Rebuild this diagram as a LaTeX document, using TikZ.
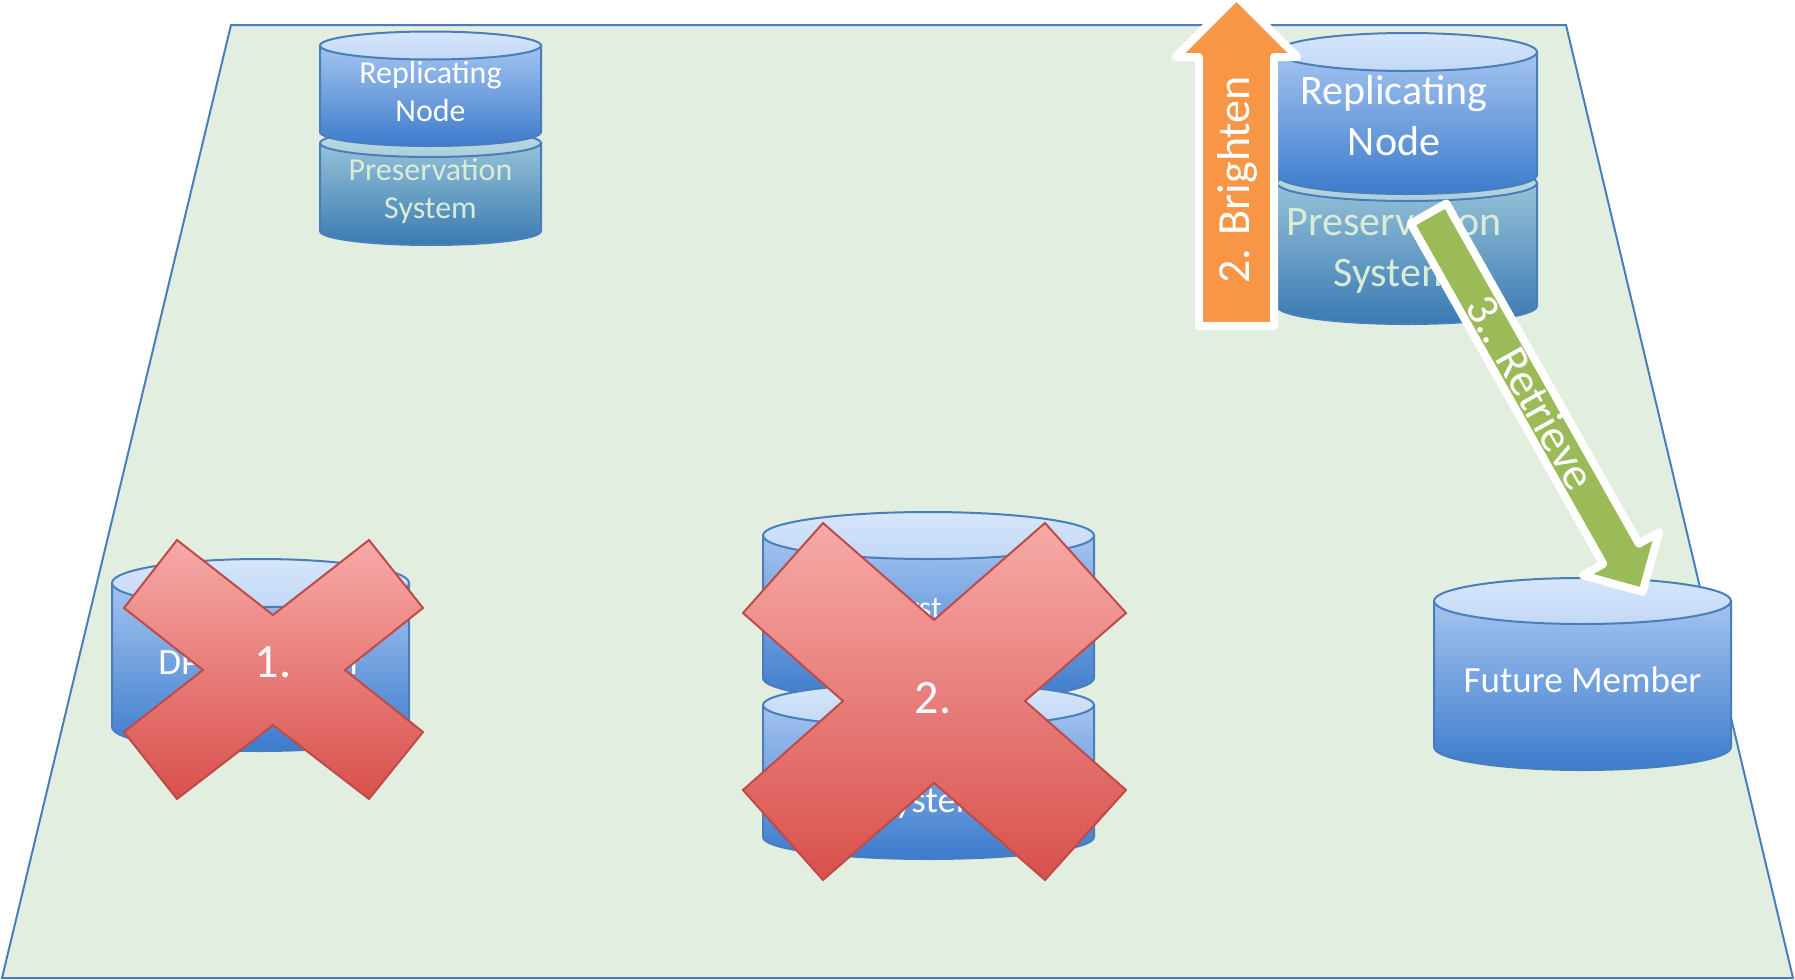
\documentclass[tikz,border=0pt]{standalone}
\usepackage{fontspec}
\setmainfont{Carlito}
\definecolor{plane}{RGB}{226,239,224}
\definecolor{edgeblue}{RGB}{74,126,187}
\definecolor{cylA}{RGB}{163,196,240}
\definecolor{cylB}{RGB}{61,123,204}
\definecolor{capA}{RGB}{214,230,251}
\definecolor{capB}{RGB}{194,216,245}
\definecolor{preA}{RGB}{150,194,216}
\definecolor{preB}{RGB}{58,122,178}
\definecolor{precapA}{RGB}{188,217,226}
\definecolor{precapB}{RGB}{172,207,221}
\definecolor{pretext}{RGB}{216,236,214}
\definecolor{xA}{RGB}{247,170,168}
\definecolor{xB}{RGB}{216,80,76}
\definecolor{xedge}{RGB}{190,75,72}
\definecolor{orangearrow}{RGB}{247,150,70}
\definecolor{greenarrow}{RGB}{155,187,89}
\tikzset{
  bluebody/.style={draw=edgeblue, line width=1pt, top color=cylA, bottom color=cylB},
  bluecap/.style={draw=edgeblue, line width=1pt, top color=capA, bottom color=capB},
  prebody/.style={draw=edgeblue, line width=1pt, top color=preA, bottom color=preB},
  precap/.style={draw=edgeblue, line width=1pt, top color=precapA, bottom color=precapB},
  xshape/.style={draw=xedge, line width=1pt, top color=xA, bottom color=xB},
  blockarrow/.style={draw=white, line width=4pt, line join=round},
  cyltext/.style={text=white, align=center, inner sep=0pt},
  pretxt/.style={text=pretext, align=center, inner sep=0pt},
}
% #1 left, #2 right, #3 top-centre y, #4 bottom-centre y, #5 y radius, #6 body style, #7 cap style
\newcommand\mycyl[7]{%
  \pgfmathsetmacro\cylc{(#1+#2)/2}%
  \pgfmathsetmacro\cylr{(#2-#1)/2}%
  \path[#6] (#1,#3) -- (#1,#4)
     .. controls (#1,#4+0.5523*#5) and (\cylc-0.5523*\cylr,#4+#5) .. (\cylc,#4+#5)
     .. controls (\cylc+0.5523*\cylr,#4+#5) and (#2,#4+0.5523*#5) .. (#2,#4)
     -- (#2,#3) -- cycle;
  \path[#7] (\cylc,#3) ellipse [x radius=\cylr, y radius=#5];
}
\begin{document}
\begin{tikzpicture}[x=0.5pt,y=-0.5pt]
\useasboundingbox (0,0) rectangle (1795,980);
\clip (0,0) rectangle (1795,980);
% plane
\path[fill=plane, draw=edgeblue, line width=1pt] (231,25) -- (1566,25) -- (1793,978) -- (2,978) -- cycle;

% top-left stack
\mycyl{320}{541}{143}{231}{14}{prebody}{precap}
\mycyl{320}{541}{45.5}{132}{14}{bluebody}{bluecap}
\node[cyltext, font=\fontsize{16}{19}\selectfont] (tlrep) at (430.5,91) {Replicating\\Node};
\node[pretxt, font=\fontsize{16}{19}\selectfont] (tlpre) at (430.5,191) {Preservation\\System};

% bottom-left member
\mycyl{112}{409}{583}{727}{24}{bluebody}{bluecap}
\node[cyltext, font=\fontsize{18.5}{22}\selectfont] (dpn) at (260.5,662) {DPN Member};
\path[xshape] (177,540) -- (273,615) -- (369,540) -- (423,608) -- (345,670) -- (423,732)
   -- (369,799) -- (273,725) -- (177,799) -- (124,732) -- (203,670) -- (124,608) -- cycle;
\node[cyltext, font=\fontsize{24}{28}\selectfont] (x1) at (273,662) {1.};

% middle stack
\mycyl{763}{1094}{535.5}{678}{23.5}{bluebody}{bluecap}
\node[cyltext, font=\fontsize{16}{20}\selectfont] (first) at (914,628) {First\\Node};
\mycyl{763}{1094}{705}{837}{22}{bluebody}{bluecap}
\node[cyltext, font=\fontsize{18.5}{22}\selectfont] (midpre) at (932,781) {Preservation\\System};
\path[xshape] (823,523) -- (934,620) -- (1045,523) -- (1126,613) -- (1025,701) -- (1126,790)
   -- (1045,880) -- (934,783) -- (823,880) -- (743,790) -- (843,701) -- (743,613) -- cycle;
\node[cyltext, font=\fontsize{24}{28}\selectfont] (x2) at (933,698) {2.};

% future member
\mycyl{1434}{1731}{601}{747}{23}{bluebody}{bluecap}
\node[cyltext, font=\fontsize{18.5}{22}\selectfont] (future) at (1582.5,680) {Future Member};

% top-right stack
\mycyl{1277}{1537}{183}{306}{18}{prebody}{precap}
\mycyl{1277}{1537}{52}{175}{19}{bluebody}{bluecap}
\node[cyltext, font=\fontsize{21}{25.5}\selectfont] (trrep) at (1394,116) {Replicating\\Node};
\node[pretxt, font=\fontsize{21}{25.5}\selectfont] (trpre) at (1394,250) {Preservation\\System};

% orange arrow
\path[blockarrow, fill=orangearrow] (1199,326) -- (1199,57) -- (1175.8,57) -- (1236.5,-3.7)
   -- (1297.2,57) -- (1274,57) -- (1274,326) -- cycle;
\node[text=white, rotate=90, inner sep=0pt, font=\fontsize{23}{27}\selectfont] (brighten) at (1237,180) {2. Brighten};

% green arrow
\begin{scope}[shift={(1430.5,217)}, rotate=-60.5]
\path[blockarrow, fill=greenarrow] (-4,-20.5) -- (387,-20.5) -- (387,-43.7) -- (430.7,0)
   -- (387,43.7) -- (387,20.5) -- (-4,20.5) -- cycle;
\end{scope}
\node[text=white, rotate=-60.5, inner sep=0pt, font=\fontsize{23}{27}\selectfont] (retrieve) at (1531,392) {3.. Retrieve};
\end{tikzpicture}
\end{document}
